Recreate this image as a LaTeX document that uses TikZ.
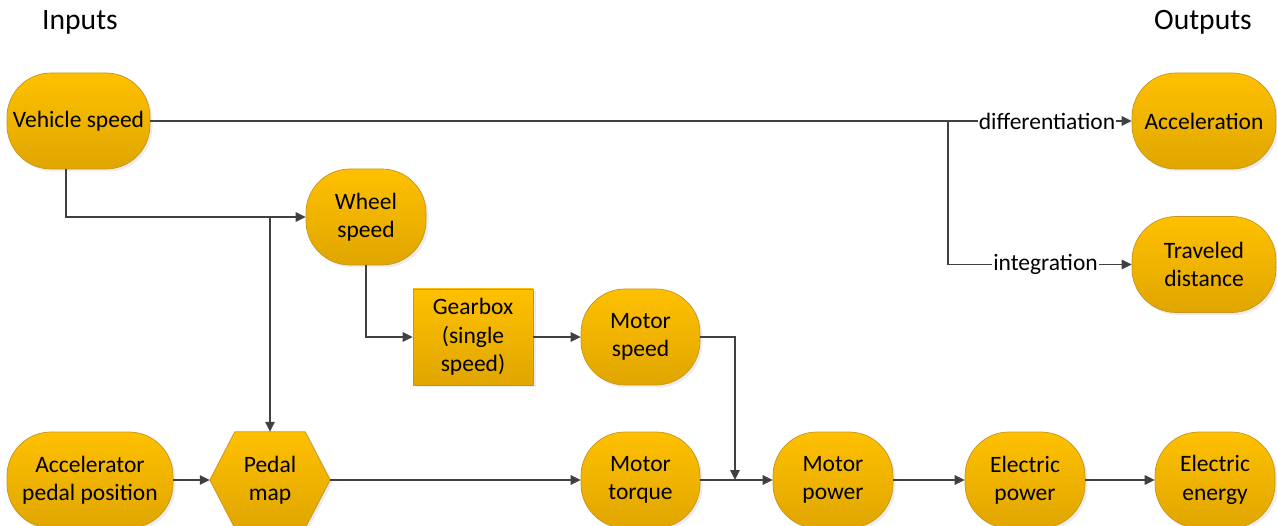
\documentclass[tikz,border=0pt]{standalone}
\usepackage{fontspec}
\setmainfont{Carlito}
\usetikzlibrary{arrows.meta,shadows,backgrounds}

\definecolor{gold}{HTML}{FFC000}
\definecolor{golddark}{HTML}{E0A600}
\definecolor{goldedge}{HTML}{C4961C}
\definecolor{wire}{HTML}{404040}

\tikzset{
  blockfill/.style={top color=gold, bottom color=golddark, draw=goldedge,
    line width=0.7pt,
    drop shadow={opacity=0.15, shadow xshift=2.5pt, shadow yshift=-2.5pt}},
  blocktext/.style={align=center, inner sep=0pt, minimum height=96pt,
    font=\fontsize{23.5}{28.5}\selectfont},
  pill/.style={blockfill, blocktext, rounded corners=44pt},
  sqbox/.style={blockfill, blocktext},
  plain/.style={blocktext},
  wire/.style={draw=wire, line width=1.5pt},
  arr/.style={wire, -{Triangle[length=10pt,width=9.5pt]}},
  lbl/.style={fill=white, inner sep=1pt, font=\fontsize{23.5}{28.5}\selectfont},
  heading/.style={font=\fontsize{29.6}{34}\selectfont, inner sep=0pt}
}

\begin{document}
\begin{tikzpicture}[x=1pt, y=-1pt]
  \useasboundingbox (0,0) rectangle (1277,526);

  % column headings
  \node[heading] (hin)  at (80,22)   {Inputs};
  \node[heading] (hout) at (1203,22) {Outputs};

  % blocks
  \node[pill, minimum width=143pt] (vs)  at (78.5,121)  {Vehicle speed};
  \node[pill, minimum width=144pt] (acc) at (1204,121)  {Acceleration};
  \node[pill, minimum width=144pt] (td)  at (1204,264.5){Traveled\\distance};
  \node[pill, minimum width=120pt] (ws)  at (366,217)   {Wheel\\speed};
  \node[sqbox, minimum width=120pt] (gb) at (473,337)   {Gearbox\\(single\\speed)};
  \node[pill, minimum width=119pt] (ms)  at (640.5,337) {Motor\\speed};
  \node[pill, minimum width=166pt] (ap)  at (90,480)    {Accelerator\\pedal position};
  \node[plain, minimum width=120pt] (pm) at (270,480)   {Pedal\\map};
  \node[pill, minimum width=119pt] (mt)  at (640.5,480) {Motor\\torque};
  \node[pill, minimum width=120pt] (mp)  at (833,480)   {Motor\\power};
  \node[pill, minimum width=120pt] (ep)  at (1025,480)  {Electric\\power};
  \node[pill, minimum width=120pt] (ee)  at (1215,480)  {Electric\\energy};

  % hexagonal outline of the pedal map block
  \begin{scope}[on background layer]
    \path[blockfill] (pm.west) -- ([xshift=25pt]pm.north west)
      -- ([xshift=-25pt]pm.north east) -- (pm.east)
      -- ([xshift=-25pt]pm.south east) -- ([xshift=25pt]pm.south west)
      -- cycle;
  \end{scope}

  % junction points
  \coordinate (vsdrop) at ([xshift=-12.5pt]vs.south);
  \coordinate (split)  at (948,121);
  \coordinate (tap)    at (pm.north |- ws.west);
  \coordinate (merge)  at (735,480);

  % vehicle speed to the outputs
  \draw[arr] (vs.east) -- (acc.west);
  \node[lbl] (ldiff) at (1047,121) {differentiation};
  \draw[arr] (split) |- (td.west);
  \node[lbl] (lint) at (1045.5,264.5) {integration};

  % speed chain
  \draw[arr] (vsdrop) |- (ws.west);
  \draw[arr] (tap) -- (pm.north);
  \draw[arr] (ws.south) |- (gb.west);
  \draw[arr] (gb.east) -- (ms.west);
  \draw[arr] (ms.east) -| (merge);

  % torque and power chain
  \draw[arr] (ap.east) -- (pm.west);
  \draw[arr] (pm.east) -- (mt.west);
  \draw[arr] (mt.east) -- (mp.west);
  \draw[arr] (mp.east) -- (ep.west);
  \draw[arr] (ep.east) -- (ee.west);
\end{tikzpicture}
\end{document}
